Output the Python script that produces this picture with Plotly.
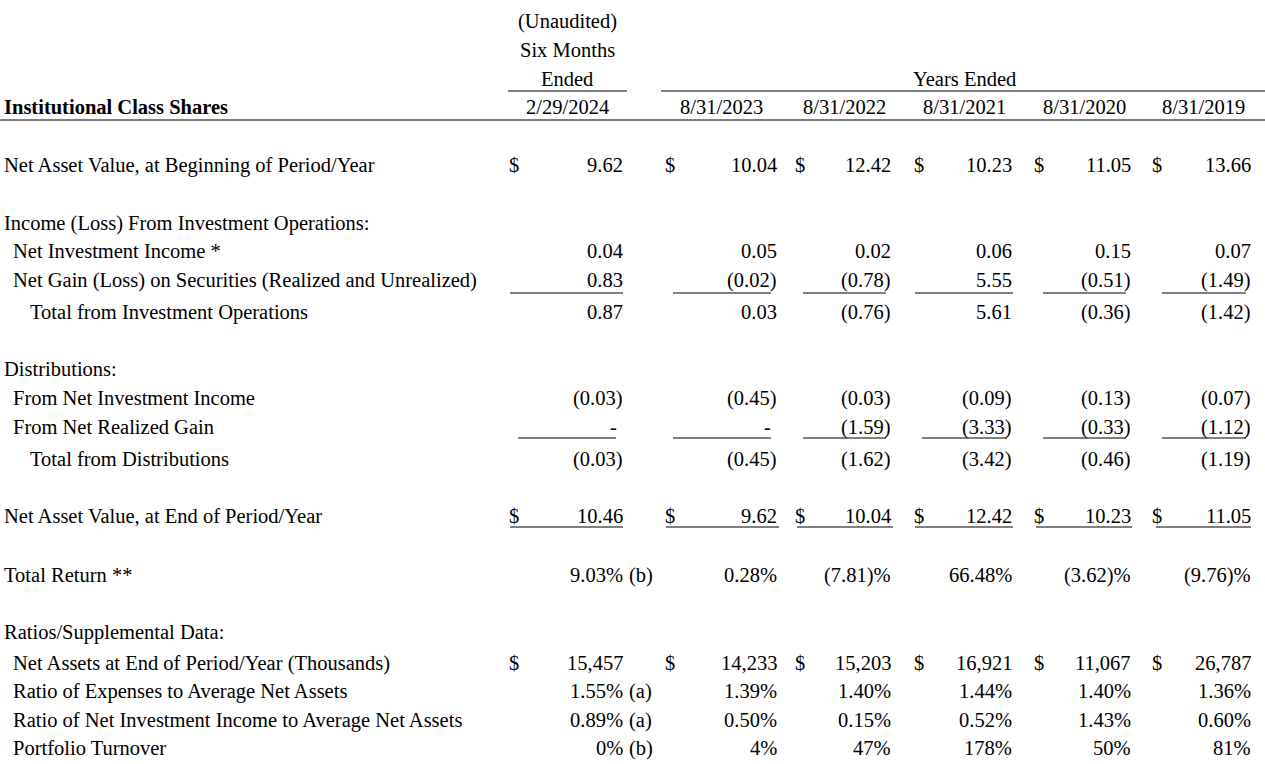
import plotly.graph_objects as go

# ---------------- data ----------------
period_labels = ["2/29/2024", "8/31/2023", "8/31/2022", "8/31/2021", "8/31/2020", "8/31/2019"]
header_first_col = ["(Unaudited)", "Six Months", "Ended"]
header_group = "Years Ended"
table_title = "Institutional Class Shares"

nav_beginning = [9.62, 10.04, 12.42, 10.23, 11.05, 13.66]
net_investment_income = [0.04, 0.05, 0.02, 0.06, 0.15, 0.07]
net_gain_loss = [0.83, -0.02, -0.78, 5.55, -0.51, -1.49]
total_from_operations = [0.87, 0.03, -0.76, 5.61, -0.36, -1.42]
dist_net_investment_income = [-0.03, -0.45, -0.03, -0.09, -0.13, -0.07]
dist_net_realized_gain = [0, 0, -1.59, -3.33, -0.33, -1.12]
total_distributions = [-0.03, -0.45, -1.62, -3.42, -0.46, -1.19]
nav_end = [10.46, 9.62, 10.04, 12.42, 10.23, 11.05]
total_return = [9.03, 0.28, -7.81, 66.48, -3.62, -9.76]
net_assets_thousands = [15457, 14233, 15203, 16921, 11067, 26787]
expense_ratio = [1.55, 1.39, 1.40, 1.44, 1.40, 1.36]
net_income_ratio = [0.89, 0.50, 0.15, 0.52, 1.43, 0.60]
portfolio_turnover = [0, 4, 47, 178, 50, 81]

# ---------------- formatting ----------------
def money(v):
    if v == 0:
        return "-"
    return f"({abs(v):.2f})" if v < 0 else f"{v:.2f}"

def pct(v):
    return f"({abs(v):.2f})%" if v < 0 else f"{v:.2f}%"

def thousands(v):
    return f"{v:,.0f}"

def whole_pct(v):
    return f"{v:.0f}%"

# layout (pixel positions)
W, H = 1265, 764
col_right = [623, 777, 891, 1012, 1131, 1251]
dollar_left = [510, 666, 796, 915, 1035, 1153]
col_center_hdr = [567, 721, 844, 964, 1084, 1203]
footnote_x = 630
PAD_L, PAD_R = 3, 2  # annotation internal padding compensation

FONT = "Liberation Serif"
FS = 20.5

rows = [
    ("Net Asset Value, at Beginning of Period/Year", 5, 165, nav_beginning, money, True, None),
    ("Income (Loss) From Investment Operations:", 5, 223, None, None, False, None),
    ("Net Investment Income *", 14, 251, net_investment_income, money, False, None),
    ("Net Gain (Loss) on Securities (Realized and Unrealized)", 14, 280, net_gain_loss, money, False, None),
    ("Total from Investment Operations", 31, 312, total_from_operations, money, False, None),
    ("Distributions:", 5, 369, None, None, False, None),
    ("From Net Investment Income", 14, 398, dist_net_investment_income, money, False, None),
    ("From Net Realized Gain", 14, 427, dist_net_realized_gain, money, False, None),
    ("Total from Distributions", 31, 459, total_distributions, money, False, None),
    ("Net Asset Value, at End of Period/Year", 5, 516, nav_end, money, True, None),
    ("Total Return **", 5, 575, total_return, pct, False, "(b)"),
    ("Ratios/Supplemental Data:", 5, 632, None, None, False, None),
    ("Net Assets at End of Period/Year (Thousands)", 14, 663, net_assets_thousands, thousands, True, None),
    ("Ratio of Expenses to Average Net Assets", 14, 691, expense_ratio, pct, False, "(a)"),
    ("Ratio of Net Investment Income to Average Net Assets", 14, 720, net_income_ratio, pct, False, "(a)"),
    ("Portfolio Turnover", 14, 748, portfolio_turnover, whole_pct, False, "(b)"),
]

ann = []

def txt(x, y, s, anchor="left", bold=False):
    if anchor == "left":
        x = x - PAD_L
    elif anchor == "right":
        x = x + PAD_R
    ann.append(dict(x=x, y=y, xref="x", yref="y", text=(f"<b>{s}</b>" if bold else s),
                    showarrow=False, xanchor=anchor, yanchor="middle",
                    font=dict(family=FONT, size=FS, color="black")))

# header
for i, s in enumerate(header_first_col):
    txt(col_center_hdr[0], [21, 50, 79][i], s, "center")
txt(964, 79, header_group, "center")
txt(5, 107, table_title, "left", bold=True)
for c, s in zip(col_center_hdr, period_labels):
    txt(c, 107, s, "center")

for label, indent, y, vals, f, dollar, foot in rows:
    txt(indent, y, label)
    if vals is None:
        continue
    for j, v in enumerate(vals):
        s = f(v)
        # dashes sit slightly left of the column edge
        txt(col_right[j] - (6 if s == "-" else 0), y, s, "right")
        if dollar:
            txt(dollar_left[j], y, "$", "left")
    if foot:
        txt(footnote_x, y, foot, "left")

shapes = []

def hline(x0, x1, y, w=1.2):
    shapes.append(dict(type="line", xref="x", yref="y", x0=x0, x1=x1, y0=y, y1=y,
                       line=dict(color="black", width=w)))

hline(508, 627, 91)
hline(661, W, 91)
hline(0, W, 120)

ul_ops = [(510, 623), (673, 771), (803, 886), (915, 1013), (1043, 1126), (1162, 1246)]
ul_dist = [(518, 616), (673, 771), (803, 886), (922, 1007), (1043, 1126), (1162, 1246)]
ul_nav = [(510, 623), (666, 779), (797, 893), (915, 1013), (1036, 1132), (1156, 1251)]
for a, b in ul_ops:
    hline(a, b, 293)
for a, b in ul_dist:
    hline(a, b, 438)
for a, b in ul_nav:
    hline(a, b, 527)

fig = go.Figure()
fig.add_trace(go.Scatter(x=[0, W], y=[0, H], mode="markers", marker=dict(opacity=0),
                         hoverinfo="skip", showlegend=False))
fig.update_layout(
    width=W, height=H, margin=dict(l=0, r=0, t=0, b=0),
    paper_bgcolor="white", plot_bgcolor="white",
    xaxis=dict(range=[0, W], visible=False, fixedrange=True),
    yaxis=dict(range=[H, 0], visible=False, fixedrange=True),
    annotations=ann, shapes=shapes, showlegend=False,
)
fig.write_html("out.html", config={"displayModeBar": False},
               post_script="document.body.style.margin='0';")
